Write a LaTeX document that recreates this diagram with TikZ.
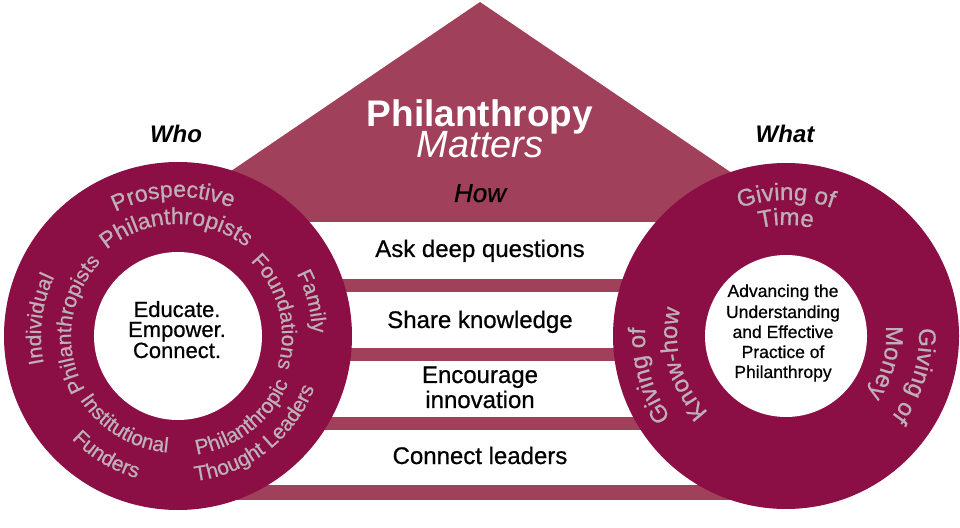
\documentclass[tikz,border=0pt]{standalone}
\usepackage{fontspec}
\setmainfont{Liberation Sans}
\newfontfamily\medfont{Liberation Sans}[FakeBold=0.7]
\usetikzlibrary{decorations.text,calc}
\definecolor{ringc}{RGB}{139,14,68}
\definecolor{housec}{RGB}{160,64,90}
\definecolor{ringtxt}{RGB}{190,175,184}
\newcommand\ringA{\medfont\fontsize{23}{23}\selectfont}
\newcommand\ringB{\medfont\fontsize{21}{21}\selectfont}
\newcommand\ringC{\medfont\fontsize{24}{24}\selectfont}
\tikzset{
  ringtext/.style={decorate, decoration={text along path, text align=center, text color=ringtxt, text={#1}}},
  bandtxt/.style={anchor=base, inner sep=0pt, font=\medfont\fontsize{24}{24}\selectfont, text=black},
  ctrtxt/.style={anchor=base, inner sep=0pt, font=\medfont\fontsize{22}{22}\selectfont, text=black},
  rctrtxt/.style={anchor=base, inner sep=0pt, font=\medfont\fontsize{17.5}{17.5}\selectfont, text=black},
  headtxt/.style={anchor=base, inner sep=0pt, font=\fontsize{24}{24}\selectfont\bfseries\itshape, text=black},
  band/.style={fill=housec, draw=none},
  ring/.style={circle, fill=ringc, draw=none, inner sep=0pt},
  hole/.style={circle, fill=white, draw=none, inner sep=0pt}
}
\newcommand\cwtext[5]{\path[ringtext={#5}] ([shift={(#2+#4:#3)}]#1) arc[start angle=#2+#4, end angle=#2-#4, radius=#3];}
\newcommand\ccwtext[5]{\path[ringtext={#5}] ([shift={(#2-#4:#3)}]#1) arc[start angle=#2-#4, end angle=#2+#4, radius=#3];}
\begin{document}
\begin{tikzpicture}[x=1pt,y=1pt]
\useasboundingbox (0,0) rectangle (960,527);
\coordinate (L) at (178,191);
\coordinate (R) at (786,191);
% house
\fill[housec] (156,305) -- (480,525) -- (804,305) -- cycle;
\fill[band] (200,235) rectangle (760,248);
\fill[band] (200,166) rectangle (760,179);
\fill[band] (200,97) rectangle (760,110);
\fill[band] (200,27) rectangle (760,42);
% circles
\node[ring, minimum size=348pt] (Lring) at (L) {};
\node[hole, minimum size=168pt] (Lhole) at (L) {};
\node[ring, minimum size=346pt] (Rring) at (R) {};
\node[hole, minimum size=162pt] (Rhole) at (R) {};
% titles
\node[anchor=base, inner sep=0pt, font=\fontsize{37}{37}\selectfont\bfseries, text=white] (phil) at (480,400) {Philanthropy};
\node[anchor=base, inner sep=0pt, font=\fontsize{38}{38}\selectfont\itshape, text=white] (matters) at (480,369) {Matters};
\node[anchor=base, inner sep=0pt, font=\medfont\fontsize{26}{26}\selectfont\itshape, text=black] (how) at (480,325) {How};
\node[headtxt] (who) at (176,384) {Who};
\node[headtxt] (what) at (785,384) {What};
% band texts
\node[bandtxt] (ask) at (480,270) {Ask deep questions};
\node[bandtxt] (share) at (480,199) {Share knowledge};
\node[bandtxt] (enc1) at (480,144) {Encourage};
\node[bandtxt] (enc2) at (480,119) {innovation};
\node[bandtxt] (conn) at (480,63) {Connect leaders};
% left centre
\node[ctrtxt] (edu) at (177,210) {Educate.};
\node[ctrtxt] (emp) at (177,190) {Empower.};
\node[ctrtxt] (con) at (177,169) {Connect.};
% right centre
\node[rctrtxt] (r1) at (783,230) {Advancing the};
\node[rctrtxt] (r2) at (783,209) {Understanding};
\node[rctrtxt] (r3) at (783,189) {and Effective};
\node[rctrtxt] (r4) at (783,169) {Practice of};
\node[rctrtxt] (r5) at (783,149) {Philanthropy};
% left ring texts
\cwtext{L}{92}{139pt}{70}{|\ringA|Prospective}
\cwtext{L}{91}{112pt}{80}{|\ringA|Philanthropists}
\cwtext{L}{173}{137pt}{60}{|\ringB|Individual}
\cwtext{L}{173}{107pt}{70}{|\ringB|Philanthropists}
\cwtext{L}{14.5}{134pt}{60}{|\ringB|Family}
\cwtext{L}{14}{104pt}{70}{|\ringB|Foundations}
\ccwtext{L}{239}{117pt}{70}{|\ringB|Institutional}
\ccwtext{L}{239}{148pt}{60}{|\ringB|Funders}
\ccwtext{L}{308}{120pt}{70}{|\ringB|Philanthropic}
\ccwtext{L}{308}{146pt}{70}{|\ringB|Thought Leaders}
% right ring texts
\cwtext{R}{90}{136pt}{60}{|\ringC|Giving of}
\cwtext{R}{90}{111pt}{60}{|\ringC|Time}
\cwtext{R}{196}{141pt}{60}{|\ringC|Giving of}
\cwtext{R}{195}{109pt}{70}{|\ringC|Know-how}
\cwtext{R}{343}{133pt}{60}{|\ringC|Giving of}
\cwtext{R}{345}{100pt}{60}{|\ringC|Money}
\end{tikzpicture}
\end{document}
